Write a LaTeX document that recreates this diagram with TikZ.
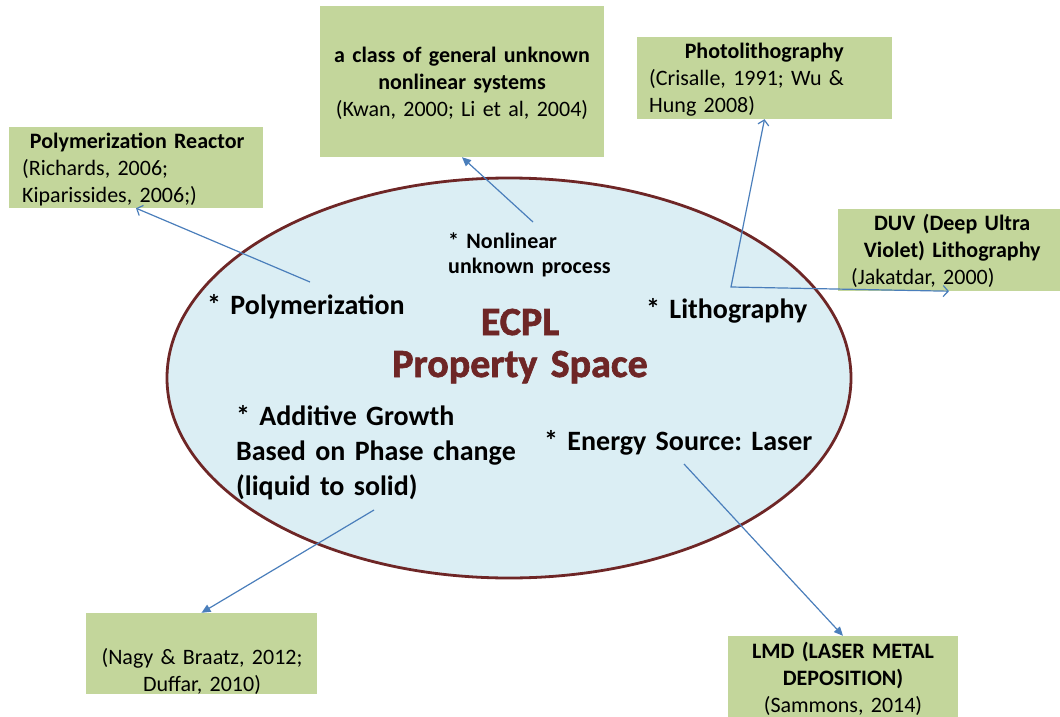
\documentclass[tikz,border=0pt]{standalone}
\usepackage{fontspec}
\setmainfont{Carlito}[WordSpace=0.75]
\newfontfamily\heavyfont{Carlito}[BoldFeatures={FakeBold=1.6}]
\frenchspacing
\usetikzlibrary{arrows.meta}
\definecolor{boxgreen}{RGB}{195,214,155}
\definecolor{spaceblue}{RGB}{219,238,244}
\definecolor{spacered}{RGB}{110,38,38}
\definecolor{linkblue}{RGB}{74,126,187}
\begin{document}
\begin{tikzpicture}[x=1pt,y=-1pt,
  box/.style={fill=boxgreen,inner sep=0pt},
  txt/.style={inner sep=0pt,text width=230pt,font=\fontsize{22}{27}\selectfont},
  inside/.style={inner sep=0pt,text width=340pt,align=left,anchor=base west,
    font=\bfseries\fontsize{28}{35}\selectfont},
  link/.style={color=linkblue,line width=1.2pt},
  openlink/.style={link,-{Straight Barb[length=5pt,width=11pt]}},
  bothlink/.style={link,{Straight Barb[length=5pt,width=11pt]}-{Straight Barb[length=5pt,width=11pt]}},
  fulllink/.style={link,-{Triangle[length=9pt,width=8pt]}}]
  \useasboundingbox (0,0) rectangle (1060,717);

  % property space
  \filldraw[fill=spaceblue,draw=spacered,line width=2.8pt]
    (509,378) ellipse [x radius=342pt,y radius=200pt];
  \node[inner sep=0pt,text width=300pt,align=center,anchor=base,text=spacered,
    font=\heavyfont\bfseries\fontsize{40}{42}\selectfont] (ecpl) at (520,335) {ECPL\\Property Space};

  \node[inside] (poly) at (207,314) {* Polymerization};
  \node[inside] (litho) at (646,318) {* Lithography};
  \node[inside] (additive) at (236,425) {* Additive Growth\\Based on Phase change\\(liquid to solid)};
  \node[inside] (energy) at (544,450) {* Energy Source: Laser};
  \node[inside,font=\bfseries\fontsize{22}{25}\selectfont] (nonlinear) at (448,248)
    {* Nonlinear\\unknown process};

  % references
  \node[box,minimum width=284pt,minimum height=151pt] (general) at (462,81.5) {};
  \node[box,minimum width=255pt,minimum height=82pt] (photo) at (764.5,78) {};
  \node[box,minimum width=222pt,minimum height=82pt] (duv) at (949,250) {};
  \node[box,minimum width=254pt,minimum height=81pt] (reactor) at (136,167.5) {};
  \node[box,minimum width=231pt,minimum height=81pt] (nagy) at (201.5,653.5) {};
  \node[box,minimum width=230pt,minimum height=81pt] (lmd) at (843,676.5) {};

  \node[txt,text width=280pt,align=center,anchor=base] (general-txt) at (462,63)
    {\textbf{a class of general unknown}\\\textbf{nonlinear systems}\\(Kwan, 2000; Li et al, 2004)};
  \node[txt,text width=230pt,align=left,anchor=base west] (photo-txt) at (649,59)
    {{\centering\textbf{Photolithography}\par}(Crisalle, 1991; Wu \&\\Hung 2008)};
  \node[txt,text width=202pt,align=left,anchor=base west] (duv-txt) at (851,230)
    {{\centering\textbf{DUV (Deep Ultra}\par\textbf{Violet) Lithography}\par}(Jakatdar, 2000)};
  \node[txt,text width=230pt,align=left,anchor=base west] (reactor-txt) at (22,148)
    {{\centering\textbf{Polymerization Reactor}\par}(Richards, 2006;\\Kiparissides, 2006;)};
  \node[txt,align=center,anchor=base] (nagy-txt) at (202,664) {(Nagy \& Braatz, 2012;\\Duffar, 2010)};
  \node[txt,align=center,anchor=base] (lmd-txt) at (843,658)
    {\textbf{LMD (LASER METAL}\\\textbf{DEPOSITION)}\\(Sammons, 2014)};

  \coordinate (poly-tail) at (310,282);
  \coordinate (nonlinear-tail) at (533,222);
  \coordinate (litho-corner) at (731,287);
  \coordinate (additive-tail) at (374,510);
  \coordinate (energy-tail) at (684,464);

  \draw[openlink] (poly-tail) -- (reactor.south);
  \draw[fulllink] (nonlinear-tail) -- (general.south);
  \draw[bothlink] (photo.south) -- (litho-corner) -- (duv.south);
  \draw[fulllink] (additive-tail) -- (nagy.north);
  \draw[fulllink] (energy-tail) -- (lmd.north);

\end{tikzpicture}
\end{document}
